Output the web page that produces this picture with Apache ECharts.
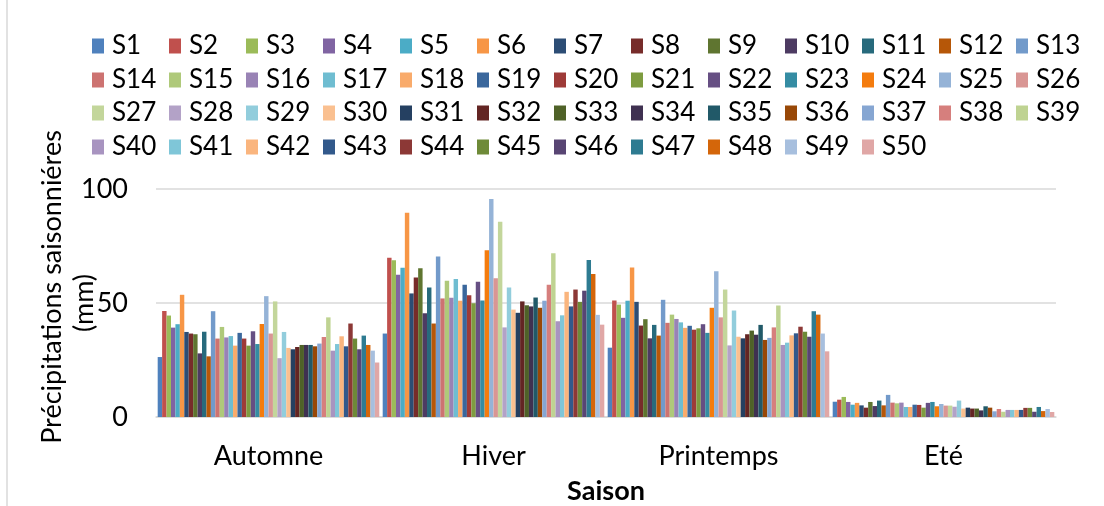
<!DOCTYPE html>
<html>
<head>
<meta charset="utf-8">
<script src="https://cdn.jsdelivr.net/npm/echarts@6/dist/echarts.min.js"></script>
<style>
  html, body { margin: 0; padding: 0; background: #fff; }
  #chart { width: 1104px; height: 506px; }
</style>
</head>
<body>
<div id="chart"></div>
<script>
// Seasons on the category axis
const saisons = ['Automne', 'Hiver', 'Printemps', 'Eté'];

// Seasonal precipitation (mm) for stations S1..S50, one array per season
const automne = [26.3,46.5,44.5,39.2,40.7,53.6,37.3,36.6,36.3,27.9,37.4,26.6,46.4,34.4,39.5,34.9,35.5,31.3,36.9,34.4,31.3,37.6,32.0,40.8,53.0,36.6,50.7,25.8,37.3,30.3,29.7,30.7,31.6,31.6,31.6,31.0,32.2,35.1,43.7,29.1,32.0,35.4,31.0,41.0,34.4,29.7,35.7,31.6,29.1,23.9];
const hiver = [36.6,69.9,68.7,62.4,65.5,89.6,54.2,61.2,65.2,45.5,56.8,41.0,70.4,52.0,59.8,52.3,60.5,51.0,58.0,53.4,49.9,59.3,51.1,73.1,95.6,60.9,85.6,39.3,56.8,47.1,45.7,50.7,49.0,48.5,52.4,47.9,51.0,58.0,71.8,42.0,44.6,54.9,48.5,55.9,50.5,55.4,68.9,62.7,44.8,40.5];
const printemps = [30.4,51.1,49.3,43.5,51.0,65.6,50.5,40.1,42.9,34.5,40.4,35.7,51.4,41.3,44.9,43.0,41.5,39.1,40.0,38.3,38.9,40.7,36.9,47.9,63.9,43.7,55.9,31.4,46.7,35.2,34.5,36.3,37.9,36.1,40.4,33.8,34.7,39.3,48.9,31.6,32.6,35.8,36.7,39.6,37.4,35.2,46.4,44.9,36.6,28.8];
const ete = [6.7,7.6,8.8,6.6,5.4,6.2,5.1,4.1,6.6,4.8,7.2,5.1,9.7,6.3,6.0,6.3,4.4,4.4,5.4,5.3,4.1,6.2,6.6,4.7,5.7,5.0,5.0,4.5,7.2,3.7,4.1,3.7,3.7,2.9,4.7,4.1,2.5,3.5,2.3,3.1,3.1,3.1,3.1,4.0,4.0,2.3,4.4,2.6,3.5,2.2];

// Y axis ticks
const yTicks = [0, 50, 100];

// Station colours
const couleurs = [
  '#4F81BD','#C0504D','#9BBB59','#8064A2','#4BACC6','#F79646',
  '#2C4D75','#772C2A','#5F7530','#4D3B62','#276A7C','#B65708',
  '#729ACA','#CD7371','#AFC97A','#9983B5','#6FBDD1','#F9AB6B',
  '#3A679C','#9E3B38','#7E9C40','#664F83','#358CA3','#F47C0E',
  '#95B3D7','#D99694','#C3D69B','#B3A2C7','#92CDDC','#FAC090',
  '#254061','#632523','#4F6228','#3F3151','#215968','#984807',
  '#86A6D2','#D67F7D','#BFD392','#A894C0','#7FC6D8','#FAB57E',
  '#32598B','#8C3836','#6E8A38','#584573','#2E7B91','#D4660A',
  '#A7BFDE','#E0A7A6'
];

const stations = automne.map((_, i) => 'S' + (i + 1));

const series = stations.map((nom, i) => ({
  name: nom,
  type: 'bar',
  barGap: '0%',
  barCategoryGap: '1.5%',
  itemStyle: { color: couleurs[i] },
  data: [automne[i], hiver[i], printemps[i], ete[i]]
}));

const font = 'Lato, "Open Sans", sans-serif';

// Legend: 13 entries per row on a fixed grid (one legend component per entry)
const perRow = 13, pitchX = 77, pitchY = 33.7, legendLeft = 92, legendTop = 33;
const legends = stations.map((nom, i) => ({
  data: [nom],
  left: legendLeft + (i % perRow) * pitchX,
  top: Math.round(legendTop + Math.floor(i / perRow) * pitchY),
  padding: 0,
  itemWidth: 12,
  itemHeight: 15,
  icon: 'rect',
  selectedMode: false,
  textStyle: { fontFamily: font, fontSize: 26, color: '#000', padding: [0, 0, 0, 3] }
}));

const chart = echarts.init(document.getElementById('chart'), null, { renderer: 'canvas' });
chart.setOption({
  animation: false,
  backgroundColor: '#fff',
  color: couleurs,
  legend: legends,
  grid: { left: 156, right: 48, top: 189, bottom: 89, containLabel: false },
  xAxis: {
    type: 'category',
    data: saisons,
    name: 'Saison',
    nameLocation: 'middle',
    nameGap: 61,
    nameMoveOverlap: false,
    nameTextStyle: { fontFamily: font, fontSize: 27, fontWeight: 'bold', color: '#000' },
    axisLine: { lineStyle: { color: '#D9D9D9', width: 1.5 } },
    axisTick: { show: false },
    axisLabel: { fontFamily: font, fontSize: 27, color: '#000', margin: 26 }
  },
  yAxis: {
    type: 'value',
    min: yTicks[0],
    max: yTicks[yTicks.length - 1],
    interval: yTicks[1] - yTicks[0],
    name: '{a|Précipitations saisonniéres}\n{b|(mm)}',
    nameLocation: 'middle',
    nameRotate: 90,
    nameGap: 56,
    nameMoveOverlap: false,
    nameTextStyle: {
      fontFamily: font, fontSize: 27, color: '#000', lineHeight: 32,
      rich: {
        a: { fontFamily: font, fontSize: 27, color: '#000', lineHeight: 32, padding: [0, 0, 0, 32] },
        b: { fontFamily: font, fontSize: 27, color: '#000', lineHeight: 32 }
      }
    },
    axisLine: { show: false },
    axisTick: { show: false },
    axisLabel: { fontFamily: font, fontSize: 27, color: '#000', margin: 28 },
    splitLine: { lineStyle: { color: '#D9D9D9', width: 1.5 } }
  },
  graphic: [{
    type: 'line',
    shape: { x1: 7, y1: 0, x2: 7, y2: 506 },
    style: { stroke: '#D9D9D9', lineWidth: 1.5 }
  }],
  series: series
});
</script>
</body>
</html>
